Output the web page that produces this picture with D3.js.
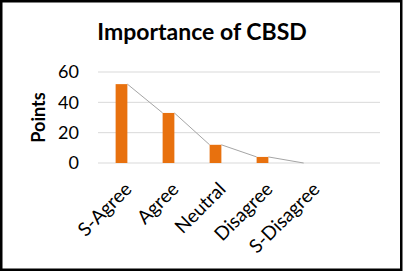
<!DOCTYPE html>
<html>
<head>
<meta charset="utf-8">
<script src="https://cdn.jsdelivr.net/npm/d3@7"></script>
<style>
	body { margin: 0; background: #fff; }
	svg { display: block; font-family: Lato, "Open Sans", sans-serif; }
</style>
</head>
<body>
<div id="wrapper"></div>
<script>
// data
const categories = ["S-Agree", "Agree", "Neutral", "Disagree", "S-Disagree"];
const points = [52, 33, 12, 4, 0];
const yTicks = [0, 20, 40, 60];

function chart() {
	const width = 404, height = 272;
	const plot = { left: 98, right: 380, top: 72, bottom: 163 };
	const step = (plot.right - plot.left) / 6;   // 6 slots, last one empty

	const svg = d3.select("#wrapper").append("svg")
		.attr("width", width)
		.attr("height", height);

	svg.append("rect")
		.attr("width", width).attr("height", height)
		.attr("fill", "#fff");

	// scales
	const xScale = d3.scaleBand()
		.domain(categories)
		.range([plot.left, plot.left + step * categories.length])
		.paddingInner(0.75)
		.paddingOuter(0.375);

	const yScale = d3.scaleLinear()
		.domain([0, 60])
		.range([plot.bottom, plot.top]);

	// gridlines
	svg.append("g")
		.selectAll("line")
		.data(yTicks)
		.join("line")
		.attr("x1", plot.left).attr("x2", plot.right)
		.attr("y1", d => yScale(d)).attr("y2", d => yScale(d))
		.attr("stroke", "#d9d9d9")
		.attr("stroke-width", 1);

	// y axis labels
	const yAxis = svg.append("g")
		.attr("transform", `translate(${plot.left - 19},0)`)
		.call(d3.axisLeft(yScale).tickValues(yTicks).tickSize(0).tickPadding(0));
	yAxis.select(".domain").remove();
	yAxis.selectAll("text")
		.attr("font-family", "Lato, sans-serif")
		.attr("font-size", 18)
		.attr("fill", "#000");

	// series lines (top-right of a bar to top-left of the next)
	const pairs = d3.pairs(categories.map((c, i) => ({ c, v: points[i] })));
	svg.append("g")
		.selectAll("line")
		.data(pairs)
		.join("line")
		.attr("x1", d => xScale(d[0].c) + xScale.bandwidth())
		.attr("y1", d => yScale(d[0].v))
		.attr("x2", d => xScale(d[1].c))
		.attr("y2", d => yScale(d[1].v))
		.attr("stroke", "#a5a5a5")
		.attr("stroke-width", 1);

	// bars
	svg.append("g")
		.selectAll("rect")
		.data(categories)
		.join("rect")
		.attr("x", d => xScale(d))
		.attr("width", xScale.bandwidth())
		.attr("y", (d, i) => yScale(points[i]))
		.attr("height", (d, i) => yScale(0) - yScale(points[i]))
		.attr("fill", "#e8710e");

	// x labels
	svg.append("g")
		.selectAll("text")
		.data(categories)
		.join("text")
		.attr("transform", d => `translate(${xScale(d) + xScale.bandwidth() / 2 + 2},${plot.bottom + 18}) rotate(-45)`)
		.attr("text-anchor", "end")
		.attr("dy", "0.7em")
		.attr("font-size", 19)
		.attr("fill", "#000")
		.text(d => d);

	// axis title
	svg.append("text")
		.attr("transform", `translate(45,${(plot.top + plot.bottom) / 2}) rotate(-90)`)
		.attr("text-anchor", "middle")
		.attr("font-size", 18)
		.attr("font-weight", "bold")
		.attr("fill", "#000")
		.text("Points");

	// title
	svg.append("text")
		.attr("x", 202)
		.attr("y", 40)
		.attr("text-anchor", "middle")
		.attr("font-size", 23)
		.attr("font-weight", "bold")
		.attr("fill", "#000")
		.text("Importance of CBSD");

	// frame
	svg.append("rect")
		.attr("x", 1.25).attr("y", 1.25)
		.attr("width", 400).attr("height", 268.5)
		.attr("fill", "none")
		.attr("stroke", "#000")
		.attr("stroke-width", 2.5);
}

chart();
</script>
</body>
</html>
